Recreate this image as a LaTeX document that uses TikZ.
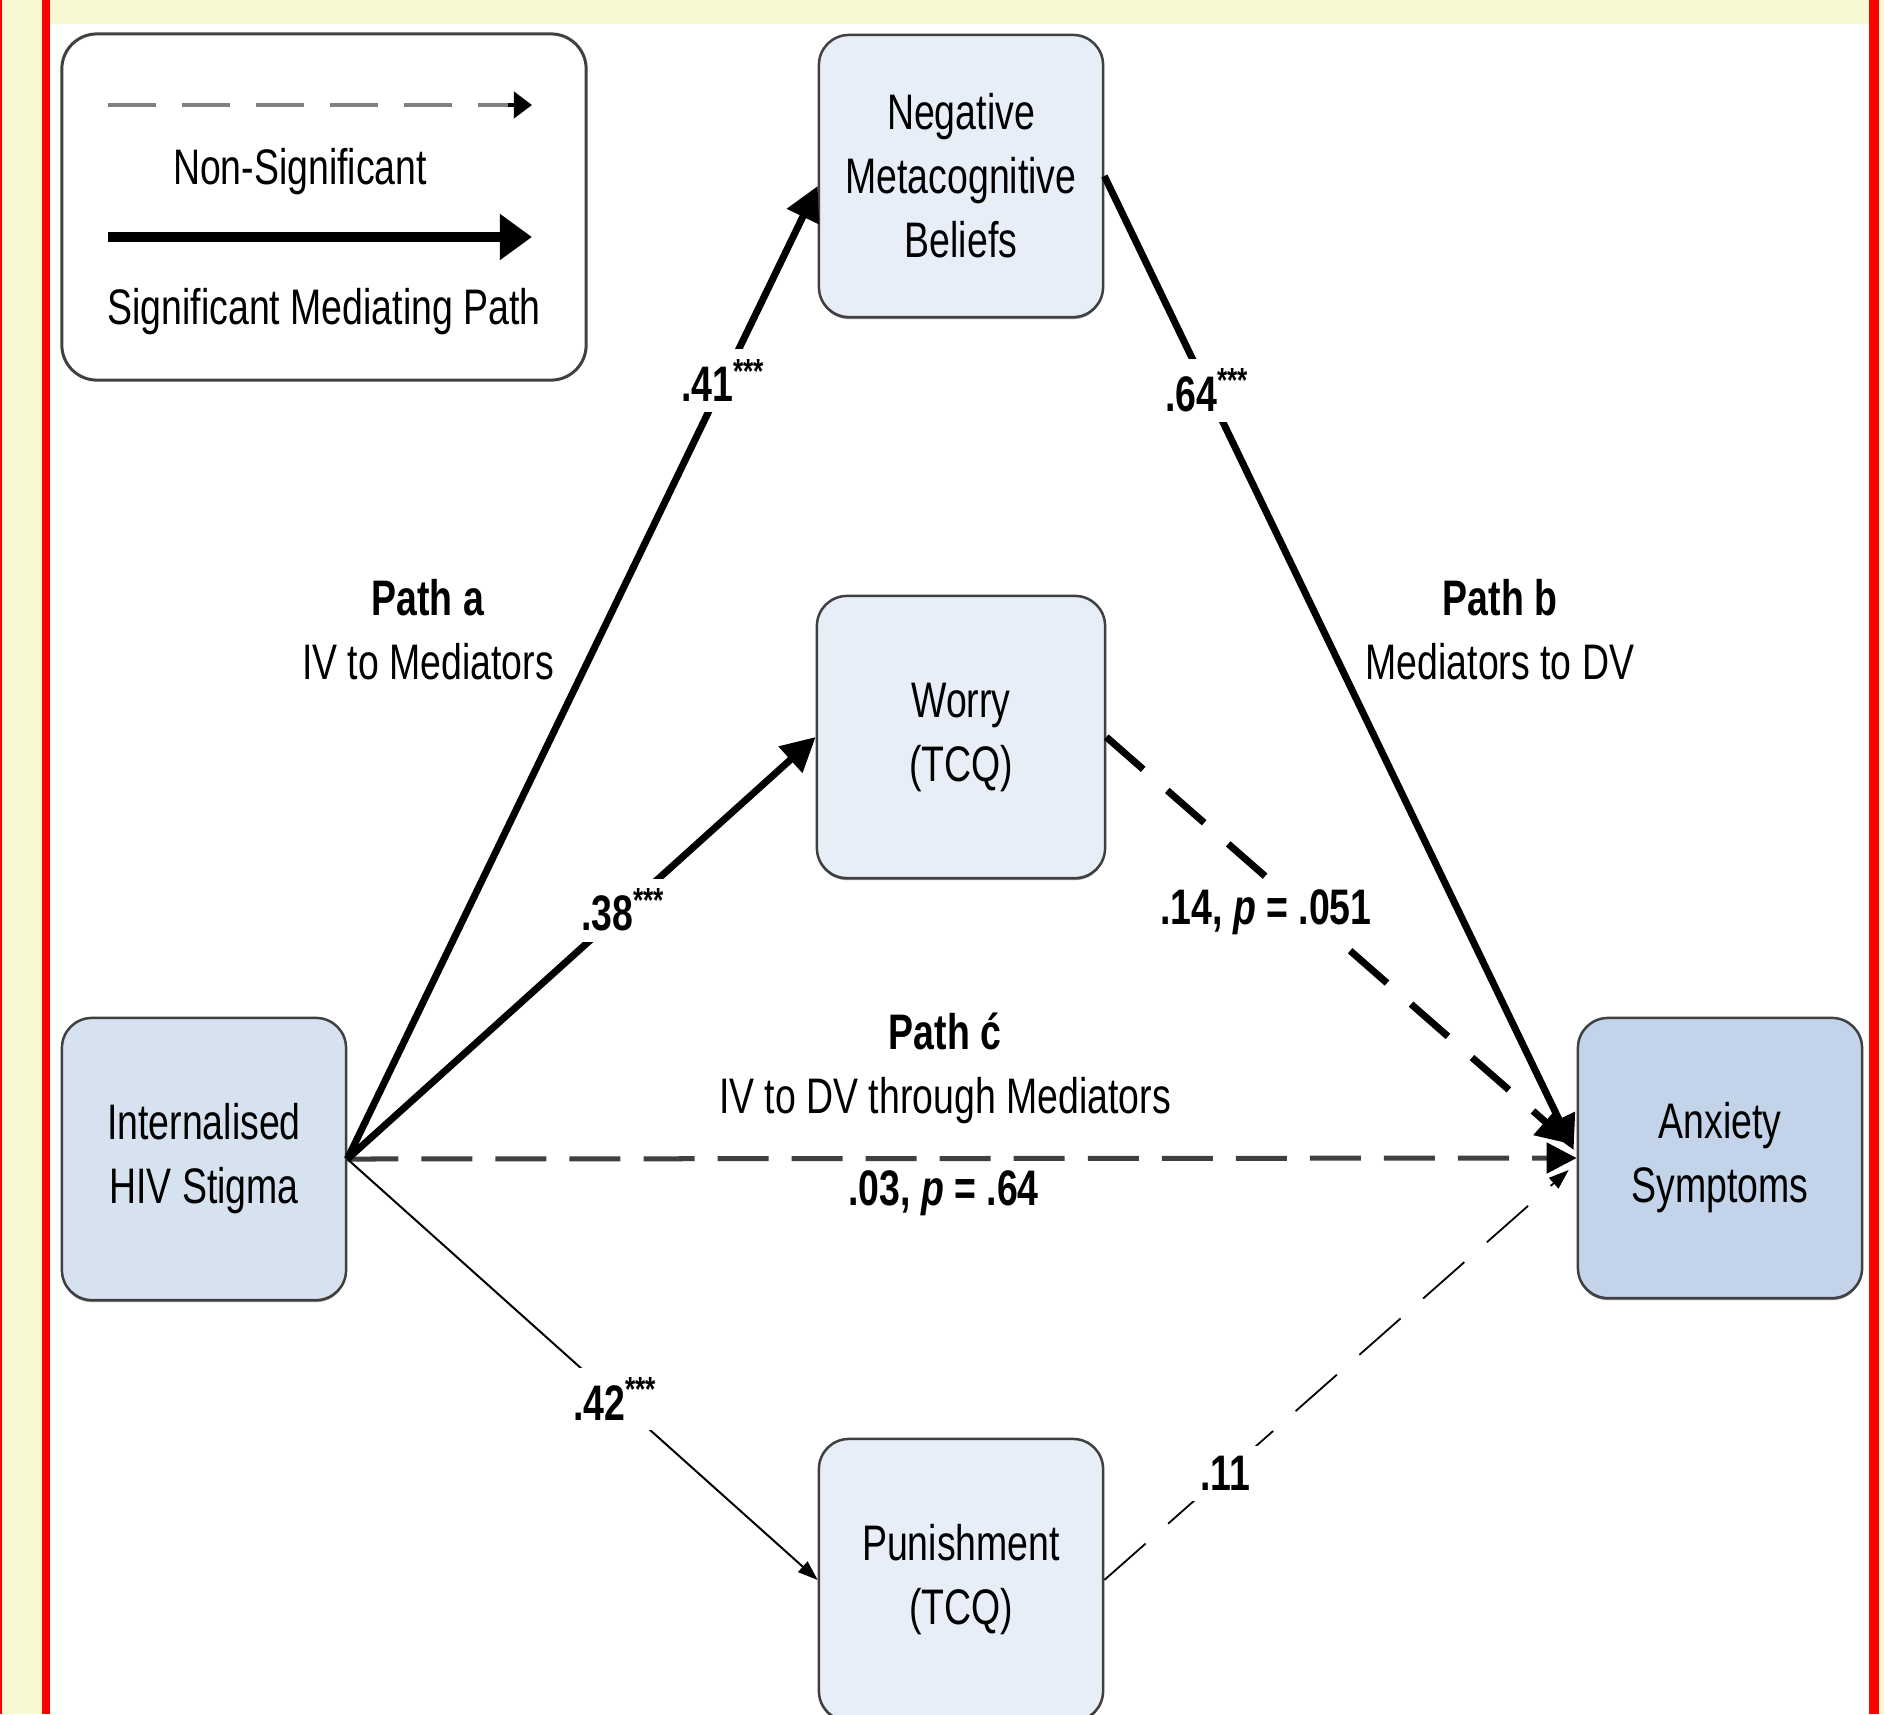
\documentclass[tikz,border=0pt]{standalone}
\usepackage{fontspec}
\setmainfont{Liberation Sans}[FakeStretch=0.75]
\usetikzlibrary{arrows.meta,calc,shadows}
\definecolor{cream}{HTML}{F8F8D2}
\definecolor{frame}{HTML}{FF0000}
\definecolor{boxlight}{HTML}{E8EEF7}
\definecolor{boxmid}{HTML}{D6E2F0}
\definecolor{boxdark}{HTML}{C3D4EA}
\definecolor{edgegray}{HTML}{404040}
\newcommand{\stars}{\textsuperscript{***}}
\tikzset{
	txt/.style={font=\fontsize{14.2}{18.2}\selectfont, align=center, inner sep=0.1cm},
	var/.style={txt, draw=edgegray, line width=0.025cm, rounded corners=0.3cm,
		minimum width=2.84cm, minimum height=2.82cm,
		drop shadow={shadow xshift=0cm, shadow yshift=-0.02cm, fill=black!45, opacity=1}},
	lbl/.style={txt, font=\fontsize{14.2}{18.2}\selectfont\bfseries, fill=white},
	sig/.style={line width=0.07cm, -{Triangle[length=0.34cm, width=0.34cm]}},
	sigdash/.style={line width=0.07cm, dash pattern=on 0.49cm off 0.32cm, -{Triangle[length=0.34cm, width=0.34cm]}},
	thin/.style={line width=0.02cm, -{Triangle[length=0.2cm, width=0.14cm]}},
	thindash/.style={line width=0.018cm, dash pattern=on 0.55cm off 0.3cm, -{Triangle[length=0.2cm, width=0.14cm]}},
	direct/.style={line width=0.05cm, draw=edgegray, dash pattern=on 0.51cm off 0.23cm, -{Triangle[length=0.3cm, width=0.3cm, color=black]}}
}
\begin{document}
\begin{tikzpicture}[x=0.01cm, y=-0.01cm]
		%%%%% FRAME %%%%%
		\useasboundingbox (0, 0) rectangle (1884, 1714);
		\fill[white] (0, 0) rectangle (1884, 1714);
		\fill[cream] (0, 0) rectangle (42, 1714);
		\fill[cream] (50, 0) rectangle (1869, 24);
		\fill[cream] (1879, 0) rectangle (1884, 1714);
		\fill[frame] (0, 0) rectangle (2, 1714);
		\fill[frame] (42, 0) rectangle (50, 1714);
		\fill[frame] (1869, 0) rectangle (1879, 1714);
		
		%%%%% LEGEND %%%%%
		\node[draw=edgegray, line width=0.03cm, rounded corners=0.35cm, minimum width=5.24cm, minimum height=3.46cm] (legend) at (324, 207) {};
		\coordinate (nsA) at (108, 105);
		\coordinate (nsB) at (532, 105);
		\coordinate (sgA) at (108, 237);
		\coordinate (sgB) at (532, 237);
		\draw[line width=0.04cm, color=black!50, dash pattern=on 0.48cm off 0.26cm] (nsA) -- ($(nsB)+(-18, 0)$);
		\draw[line width=0.04cm, -{Triangle[length=0.18cm, width=0.26cm]}] ($(nsB)+(-24, 0)$) -- (nsB);
		\node[txt] (nslab) at (300, 172) {Non-Significant};
		\draw[line width=0.1cm, -{Triangle[length=0.32cm, width=0.44cm]}] (sgA) -- (sgB);
		\node[txt] (sglab) at (324, 312) {Significant Mediating Path};
		
		%%%%% VARIABLES %%%%%
		\node[var, fill=boxmid] (stigma) at (204, 1159) {Internalised\\HIV Stigma};
		\node[var, fill=boxlight] (nmb) at (961, 176) {Negative\\Metacognitive\\Beliefs};
		\node[var, fill=boxlight, minimum width=2.88cm] (worry) at (961, 737) {Worry\\(TCQ)};
		\node[var, fill=boxlight] (punish) at (961, 1580) {Punishment\\(TCQ)};
		\node[var, fill=boxdark, minimum height=2.8cm] (anxiety) at (1720, 1158) {Anxiety\\Symptoms};
		
		%%%%% PATHS %%%%%
		\draw[direct] (stigma.east) -- node[pos=0.485, below, txt, text=black, font=\fontsize{14.2}{18.2}\selectfont\bfseries] (clab) {.03, \textit{p} = .64} (anxiety.west);
		\draw[sig] (stigma.east) -- node[pos=0.8, lbl] (alab1) {.41\stars} ($(nmb.west)+(0, 10)$);
		\draw[sig] (stigma.east) -- node[pos=0.59, lbl] (alab2) {.38\stars} (worry.west);
		\draw[thin] (stigma.east) -- node[pos=0.57, lbl] (alab3) {.42\stars} (punish.west);
		\draw[sig] (nmb.east) -- node[pos=0.22, lbl] (blab1) {.64\stars} ($(anxiety.west)+(-3, -8)$);
		\draw[sigdash] (worry.east) -- node[pos=0.43, lbl, xshift=-0.4cm] (blab2) {.14, \textit{p} = .051} ($(anxiety.west)+(-6, -14)$);
		\draw[thindash] (punish.east) -- node[pos=0.26, lbl] (blab3) {.11} ($(anxiety.west)+(-8, 12)$);
		
		%%%%% PATH NAMES %%%%%
		\node[txt] (pa) at (428, 630) {\textbf{Path a}\\IV to Mediators};
		\node[txt] (pb) at (1500, 630) {\textbf{Path b}\\Mediators to DV};
		\node[txt] (pc) at (945, 1068) {\textbf{Path ć}\\IV to DV through Mediators};
\end{tikzpicture}
\end{document}
